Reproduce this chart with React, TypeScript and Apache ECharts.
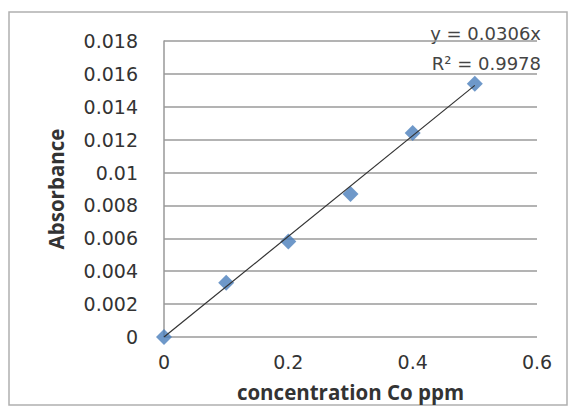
import React, { useEffect, useRef } from "react";
import * as echarts from "echarts";

const concentration = [0, 0.1, 0.2, 0.3, 0.4, 0.5];
const absorbance = [0, 0.0033, 0.0058, 0.0087, 0.0124, 0.0154];
const trendX = [0, 0.5];
const trendY = [0, 0.0153];
const equationText = "y = 0.0306x";
const r2Text = "R² = 0.9978";
const xTitle = "concentration Co ppm";
const yTitle = "Absorbance";

export default function App() {
  const ref = useRef<HTMLDivElement>(null);
  useEffect(() => {
    if (!ref.current) return;
    const chart = echarts.init(ref.current, null, { renderer: "svg" });
    const tickFont = { fontFamily: "DejaVu Sans", fontSize: 19, color: "#333" };
    const titleFont = { fontFamily: "Open Sans", fontWeight: "bold", fontSize: 20.5, color: "#333" };
    chart.setOption({
      animation: false,
      backgroundColor: "#fff",
      grid: { left: 164, right: 39, top: 41, bottom: 71, containLabel: false },
      xAxis: {
        type: "value",
        min: 0,
        max: 0.6,
        interval: 0.2,
        name: xTitle,
        nameLocation: "middle",
        nameGap: 44,
        nameTextStyle: titleFont,
        axisLine: { show: false },
        axisTick: { show: false },
        splitLine: { show: false },
        axisLabel: { ...tickFont, margin: 15 },
      },
      yAxis: {
        type: "value",
        min: 0,
        max: 0.018,
        interval: 0.002,
        name: yTitle,
        nameLocation: "middle",
        nameGap: 98,
        nameTextStyle: titleFont,
        axisLine: { show: true, lineStyle: { color: "#999", width: 1.5 } },
        axisTick: { show: false },
        splitLine: { show: true, lineStyle: { color: "#9a9a9a", width: 1.5 } },
        axisLabel: { ...tickFont, margin: 26 },
      },
      series: [
        {
          type: "line",
          data: trendX.map((x, i) => [x, trendY[i]]),
          showSymbol: false,
          lineStyle: { color: "#333", width: 1.2 },
          silent: true,
          z: 3,
        },
        {
          type: "scatter",
          data: concentration.map((x, i) => [x, absorbance[i]]),
          symbol: "diamond",
          symbolSize: [16, 16],
          itemStyle: { color: "#4a7ebb" },
          z: 2,
        },
      ],
      graphic: [
        {
          type: "rect",
          shape: { x: 9, y: 12, width: 558, height: 393 },
          style: { fill: "none", stroke: "#b0b0b0", lineWidth: 1.5 },
          silent: true,
        },
        {
          type: "text",
          x: 541,
          y: 33,
          style: { text: equationText, align: "right", verticalAlign: "middle", fontFamily: "DejaVu Sans", fontSize: 18, fill: "#444" },
        },
        {
          type: "text",
          x: 541,
          y: 63,
          style: { text: r2Text, align: "right", verticalAlign: "middle", fontFamily: "DejaVu Sans", fontSize: 18, fill: "#444" },
        },
      ],
    });
    return () => chart.dispose();
  }, []);
  return (
    <div
      ref={ref}
      style={{ position: "fixed", left: 0, top: 0, width: 576, height: 408 }}
    />
  );
}
